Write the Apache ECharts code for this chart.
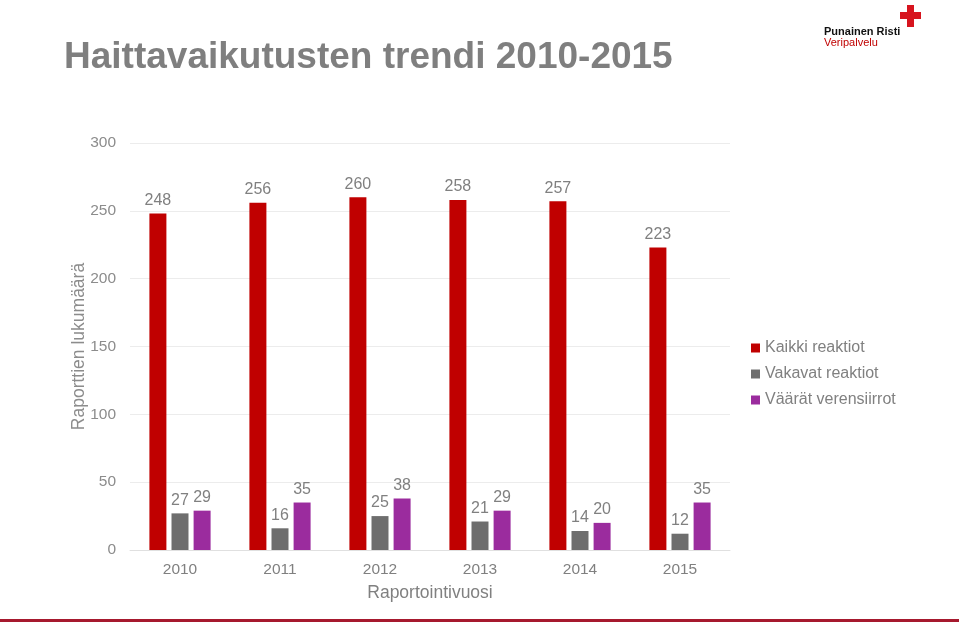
<!DOCTYPE html>
<html><head><meta charset="utf-8">
<script src="https://cdn.jsdelivr.net/npm/echarts@6/dist/echarts.min.js"></script>
<style>html,body{margin:0;padding:0;background:#fff;}#c{width:959px;height:622px;}</style>
</head><body><div id="c"></div>
<script>
const years = ['2010','2011','2012','2013','2014','2015'];
const kaikki = [248,256,260,258,257,223];
const vakavat = [27,16,25,21,14,12];
const vaarat = [29,35,38,29,20,35];
const yTicks = [0,50,100,150,200,250,300];

const chart = echarts.init(document.getElementById('c'));
const FF = 'Liberation Sans, Arial';
const lbl = {show:true,position:'top',color:'#808080',fontSize:16,fontFamily:FF,distance:5};
chart.setOption({
  animation:false,
  title:{text:'Haittavaikutusten trendi 2010-2015',left:59,top:34,textStyle:{color:'#7f7f7f',fontSize:37,fontWeight:'bold',fontFamily:FF}},
  graphic:[
    {type:'rect',left:0,top:619,shape:{width:959,height:3},style:{fill:'#a6192e'}},
    {type:'text',left:824,top:26,style:{text:'Punainen Risti',fill:'#111',font:'bold 11px Liberation Sans, Arial'}},
    {type:'text',left:824,top:37,style:{text:'Veripalvelu',fill:'#c00000',font:'11px Liberation Sans, Arial'}},
    {type:'rect',left:907,top:5,shape:{width:7,height:22},style:{fill:'#d7141e'}},
    {type:'rect',left:900,top:12,shape:{width:21,height:7},style:{fill:'#d7141e'}}
  ],
  legend:{orient:'vertical',left:746,top:335,itemWidth:9,itemHeight:9,itemGap:10,icon:'rect',
    textStyle:{color:'#808080',fontSize:16,fontFamily:FF},
    data:['Kaikki reaktiot','Vakavat reaktiot','Väärät verensiirrot']},
  grid:{left:130,right:229,top:143,bottom:72},
  xAxis:{type:'category',data:years,name:'Raportointivuosi',nameLocation:'middle',nameGap:34,nameMoveOverlap:false,
    nameTextStyle:{color:'#808080',fontSize:17.5,fontFamily:FF},
    axisLine:{show:true,lineStyle:{color:'#e0e0e0'}},axisTick:{show:false},
    axisLabel:{color:'#808080',fontSize:15.5,fontFamily:FF,margin:12}},
  yAxis:{type:'value',min:0,max:300,interval:50,name:'Raporttien lukumäärä',nameLocation:'middle',nameGap:42,nameMoveOverlap:false,
    nameTextStyle:{color:'#8c8c8c',fontSize:17.5,fontFamily:FF},
    axisLine:{show:false},axisTick:{show:false},
    axisLabel:{color:'#8c8c8c',fontSize:15.5,fontFamily:FF,margin:14,
      formatter:v=>yTicks.includes(v)?String(v):''},
    splitLine:{lineStyle:{color:'#ececec'}}},
  series:[
    {name:'Kaikki reaktiot',type:'bar',data:kaikki,itemStyle:{color:'#c00000'},barWidth:17,barGap:'30%',label:lbl},
    {name:'Vakavat reaktiot',type:'bar',data:vakavat,itemStyle:{color:'#6e6e6e'},barWidth:17,barGap:'30%',label:lbl},
    {name:'Väärät verensiirrot',type:'bar',data:vaarat,itemStyle:{color:'#9b2c9e'},barWidth:17,barGap:'30%',label:lbl}
  ]
});
</script></body></html>
